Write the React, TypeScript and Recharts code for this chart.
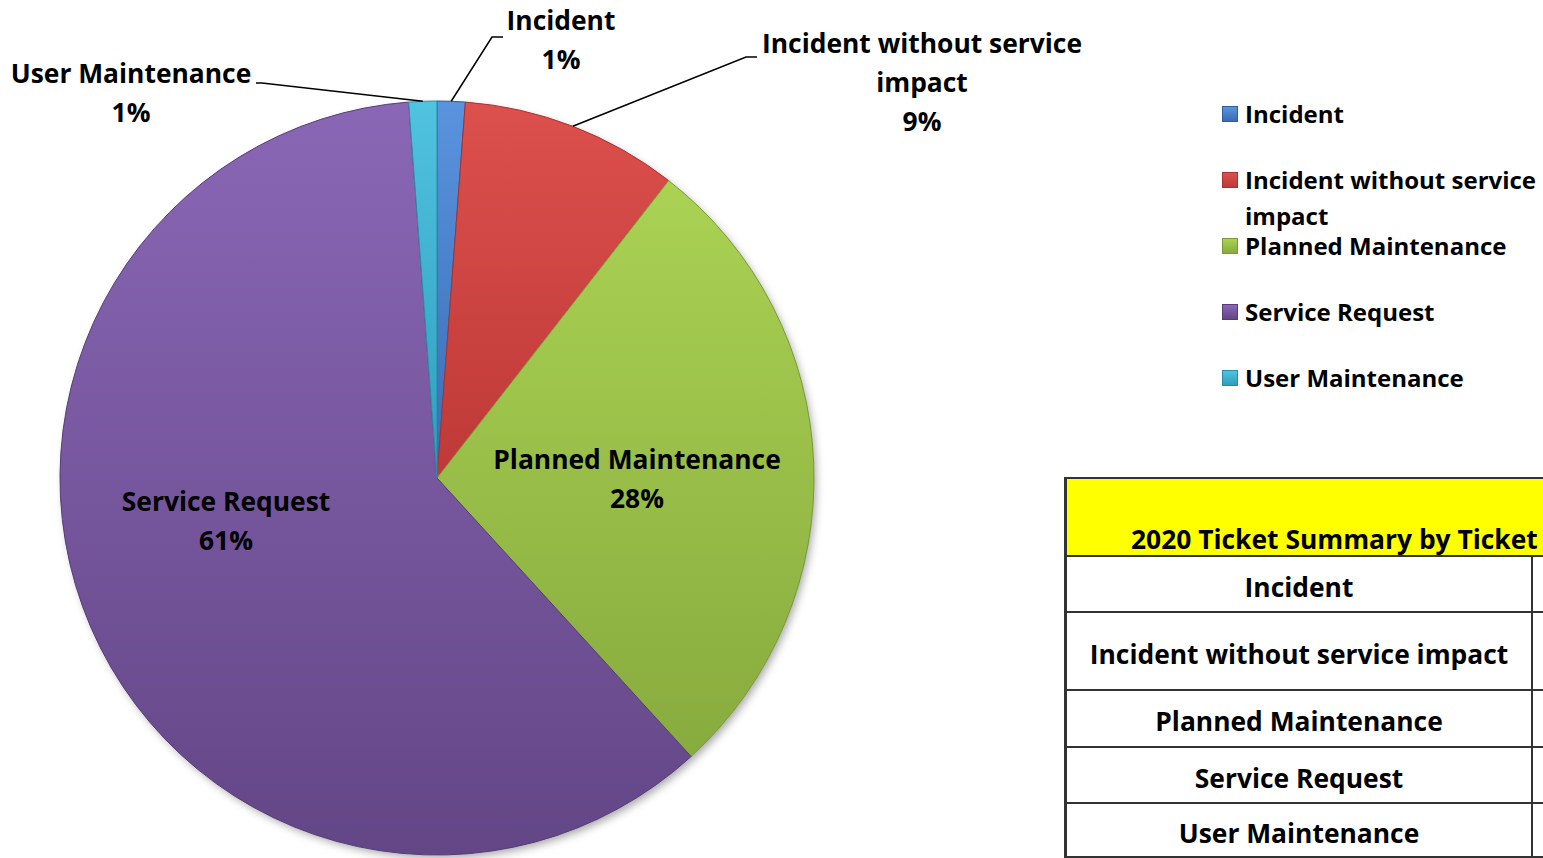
import React from 'react';
import { PieChart, Pie, Cell, Legend } from 'recharts';

const CATEGORIES = [
  'Incident',
  'Incident without service impact',
  'Planned Maintenance',
  'Service Request',
  'User Maintenance',
];
const SHARES = [1.2, 9.33, 27.7, 60.57, 1.2];
const TABLE_TITLE = '2020 Ticket Summary by Ticket';

const COLORS_TOP = ['#5A93DE', '#DC504D', '#AAD253', '#8A67B6', '#50C3E0'];
const COLORS_BOTTOM = ['#3A6CB4', '#BE3937', '#88AB3E', '#634686', '#2E9EBB'];
const COLORS_EDGE = ['#2F5C9C', '#A83230', '#7A9A36', '#563C78', '#2A8CA8'];

const FONT = '"Open Sans", "Noto Sans", sans-serif';

// label layout (text anchors, leader elbows)
const LABEL_LAYOUT = [
  { x: 561, y: 20, lines: ['Incident'], leader: [[503, 37], [492, 37]] },
  { x: 922, y: 43, lines: ['Incident without service', 'impact'], leader: [[757, 57], [746, 57]] },
  { x: 637, y: 459, lines: ['Planned Maintenance'], leader: null },
  { x: 226, y: 501, lines: ['Service Request'], leader: null },
  { x: 131, y: 73, lines: ['User Maintenance'], leader: [[256, 83], [262, 83]] },
];

const data = CATEGORIES.map((name, i) => ({ name, value: SHARES[i] }));
const total = SHARES.reduce((a, b) => a + b, 0);

const RAD = Math.PI / 180;

const renderLabel = (props: any) => {
  const { index, cx, cy, midAngle, outerRadius, value } = props;
  const L = LABEL_LAYOUT[index];
  const pct = Math.round((value / total) * 100) + '%';
  const lines = [...L.lines, pct];
  const ex = cx + outerRadius * Math.cos(-midAngle * RAD);
  const ey = cy + outerRadius * Math.sin(-midAngle * RAD);
  return (
    <g key={'lab' + index}>
      {L.leader && (
        <polyline
          points={`${L.leader[0][0]},${L.leader[0][1]} ${L.leader[1][0]},${L.leader[1][1]} ${ex},${ey}`}
          fill="none"
          stroke="#000"
          strokeWidth={1.5}
        />
      )}
      {lines.map((t, k) => (
        <text
          key={k}
          x={L.x}
          y={L.y + k * 39}
          textAnchor="middle"
          dominantBaseline="central"
          fontFamily={FONT}
          fontWeight={700}
          fontSize={26.4}
          fill="#000"
        >
          {t}
        </text>
      ))}
    </g>
  );
};

const LegendContent = () => (
  <div style={{ fontFamily: FONT, fontWeight: 700, fontSize: 24, color: '#000' }}>
    {CATEGORIES.map((name, i) => (
      <div key={name} style={{ position: 'relative', height: 66, width: 300 }}>
        <div
          style={{
            position: 'absolute',
            left: 0,
            top: 10,
            width: 16,
            height: 16,
            background: `linear-gradient(${COLORS_TOP[i]}, ${COLORS_BOTTOM[i]})`,
            border: `1px solid ${COLORS_EDGE[i]}`,
            boxSizing: 'border-box',
          }}
        />
        <div style={{ position: 'absolute', left: 23, top: 0, lineHeight: '36px', width: 300 }}>{name}</div>
      </div>
    ))}
  </div>
);

const ROW_BOUNDS = [557, 613, 691, 748, 804, 858];

export default function App() {
  return (
    <div
      style={{
        position: 'absolute',
        left: 0,
        top: 0,
        width: 1543,
        height: 858,
        overflow: 'hidden',
        background: '#fff',
      }}
    >
      <PieChart width={1543} height={858} margin={{ top: 0, right: 0, bottom: 0, left: 0 }}>
        <defs>
          {CATEGORIES.map((_, i) => (
            <linearGradient key={i} id={'grad' + i} x1="0" y1="0" x2="0" y2="1">
              <stop offset="0%" stopColor={COLORS_TOP[i]} />
              <stop offset="100%" stopColor={COLORS_BOTTOM[i]} />
            </linearGradient>
          ))}
          <filter id="pieShadow" x="-10%" y="-10%" width="120%" height="120%">
            <feDropShadow dx="3" dy="4" stdDeviation="4" floodColor="#000" floodOpacity="0.35" />
          </filter>
        </defs>
        <Pie
          data={[{ name: 'bg', value: 1 }]}
          dataKey="value"
          cx={437}
          cy={478}
          outerRadius={376}
          startAngle={90}
          endAngle={-270}
          fill="#ffffff"
          stroke="none"
          style={{ filter: 'url(#pieShadow)' }}
          isAnimationActive={false}
          legendType="none"
        />
        <Pie
          data={data}
          dataKey="value"
          nameKey="name"
          cx={437}
          cy={478}
          outerRadius={377}
          startAngle={90}
          endAngle={-270}
          isAnimationActive={false}
          label={renderLabel}
          labelLine={false}
        >
          {data.map((d, i) => (
            <Cell key={d.name} fill={`url(#grad${i})`} stroke={COLORS_EDGE[i]} strokeWidth={1} />
          ))}
        </Pie>
        <Legend
          layout="vertical"
          align="right"
          verticalAlign="top"
          content={<LegendContent />}
          wrapperStyle={{ position: 'absolute', left: 1222, top: 96, width: 330 }}
        />
      </PieChart>

      {/* Summary table */}
      <div
        style={{
          position: 'absolute',
          left: 1064,
          top: 477,
          width: 600,
          height: 400,
          fontFamily: FONT,
          fontWeight: 700,
          fontSize: 26.4,
          color: '#000',
        }}
      >
        <div
          style={{
            position: 'absolute',
            left: 0,
            top: 0,
            width: 600,
            height: 80,
            background: '#FFFF00',
            borderTop: '2px solid #333',
            borderLeft: '3px solid #333',
            borderBottom: '2px solid #333',
            boxSizing: 'border-box',
          }}
        >
          <div style={{ position: 'absolute', left: 64, top: 42, whiteSpace: 'nowrap', lineHeight: '36px' }}>
            {TABLE_TITLE}
          </div>
        </div>
        {CATEGORIES.map((name, i) => {
          const top = ROW_BOUNDS[i] - 477;
          const h = ROW_BOUNDS[i + 1] - ROW_BOUNDS[i];
          return (
            <div
              key={name}
              style={{
                position: 'absolute',
                left: 0,
                top,
                width: 600,
                height: h,
                borderLeft: '3px solid #333',
                borderBottom: '2px solid #333',
                boxSizing: 'border-box',
              }}
            >
              <div
                style={{
                  position: 'absolute',
                  left: 0,
                  top: 0,
                  width: 466,
                  height: h - 2,
                  paddingTop: 5,
                  borderRight: '2px solid #333',
                  boxSizing: 'border-box',
                  display: 'flex',
                  alignItems: 'center',
                  justifyContent: 'center',
                  whiteSpace: 'nowrap',
                }}
              >
                {name}
              </div>
            </div>
          );
        })}
      </div>
    </div>
  );
}
